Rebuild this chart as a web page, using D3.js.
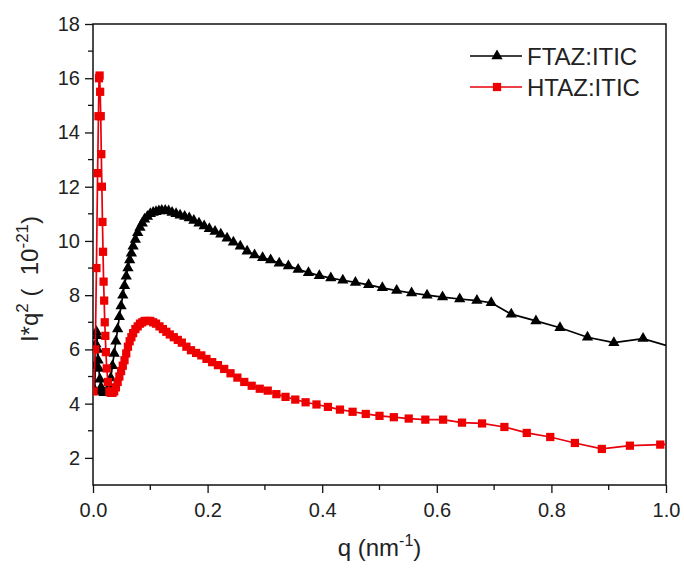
<!DOCTYPE html>
<html>
<head>
<meta charset="utf-8">
<script src="https://cdn.jsdelivr.net/npm/d3@7"></script>
<style>
  body { margin: 0; background: #fff; }
  text { font-family: "Liberation Sans", Arial, sans-serif; fill: #222; }
</style>
</head>
<body>
<script>
// q values (nm^-1) and I*q^2 (10^-21)
var ftazQ = [0.003,0.004,0.005,0.006,0.007,0.008,0.009,0.010,0.012,0.014,0.016,0.019,0.022,0.025,0.028,
  0.031,0.034,0.037,0.040,0.043,0.046,0.049,0.052,0.055,0.058,0.061,0.064,0.067,0.070,0.074,0.078,0.082,
  0.086,0.090,0.095,0.100,0.105,0.110,0.115,0.120,0.126,0.132,0.138,0.145,0.152,0.160,0.168,0.176,0.185,
  0.194,0.203,0.213,0.223,0.234,0.245,0.257,0.269,0.282,0.296,0.310,0.325,0.341,0.358,0.376,0.395,0.415,
  0.436,0.458,0.481,0.505,0.530,0.556,0.583,0.610,0.640,0.670,0.695,0.730,0.773,0.815,0.863,0.909,0.960,1.0];
var ftazI = [4.5,5.4,6.2,6.65,6.5,6.0,5.6,5.3,4.9,4.6,4.45,4.4,4.4,4.45,4.6,
  4.95,5.4,5.85,6.3,6.75,7.2,7.6,8.0,8.35,8.7,9.0,9.3,9.55,9.8,10.05,10.3,10.5,
  10.65,10.8,10.9,11.0,11.05,11.08,11.1,11.12,11.12,11.1,11.05,11.0,10.95,10.9,10.85,10.75,10.65,
  10.55,10.45,10.35,10.25,10.1,9.95,9.8,9.62,9.48,9.38,9.3,9.18,9.08,8.95,8.83,8.72,8.63,
  8.55,8.47,8.38,8.27,8.17,8.08,8.0,7.93,7.86,7.8,7.72,7.3,7.05,6.8,6.45,6.25,6.4,6.15];

var htazQ = [0.001,0.004,0.006,0.008,0.0095,0.0105,0.0115,0.0125,0.0135,0.0145,0.0155,0.0165,0.0175,0.0185,
  0.0195,0.0205,0.0215,0.0225,0.024,0.026,0.0285,0.031,0.034,0.037,0.040,0.043,0.046,0.049,0.052,0.055,
  0.058,0.061,0.064,0.067,0.070,0.074,0.078,0.082,0.086,0.090,0.095,0.100,0.105,0.110,0.116,0.122,0.128,
  0.134,0.141,0.148,0.155,0.163,0.171,0.180,0.189,0.198,0.208,0.218,0.229,0.240,0.252,0.264,0.277,0.291,
  0.305,0.320,0.336,0.353,0.371,0.390,0.410,0.431,0.453,0.476,0.500,0.525,0.551,0.580,0.611,0.644,0.679,
  0.718,0.757,0.798,0.841,0.888,0.937,0.990,1.0];
var htazI = [4.45,6.0,9.0,12.5,14.6,16.0,16.1,15.5,14.6,13.2,12.0,10.7,9.6,8.5,
  7.8,7.0,6.5,5.9,5.3,4.8,4.45,4.4,4.4,4.45,4.6,4.8,5.0,5.2,5.4,5.6,
  5.85,6.1,6.3,6.45,6.6,6.75,6.85,6.95,7.0,7.05,7.05,7.05,7.0,6.95,6.85,6.75,6.65,
  6.55,6.45,6.35,6.25,6.1,5.97,5.87,5.78,5.65,5.53,5.42,5.28,5.12,4.96,4.8,4.66,4.55,
  4.48,4.35,4.25,4.15,4.05,3.97,3.88,3.78,3.7,3.62,3.55,3.5,3.45,3.41,3.41,3.3,3.27,
  3.14,2.92,2.77,2.55,2.33,2.45,2.49,2.5];

var xTicks = [0, 0.2, 0.4, 0.6, 0.8, 1.0];
var yTicks = [2, 4, 6, 8, 10, 12, 14, 16, 18];
var seriesNames = ["FTAZ:ITIC", "HTAZ:ITIC"];

var svgWidth = 684, svgHeight = 569;
var margin = {top: 24, right: 18, bottom: 84, left: 93};
var w = svgWidth - margin.left - margin.right;
var h = svgHeight - margin.top - margin.bottom;

var svg = d3.select("body").append("svg")
  .attr("width", svgWidth)
  .attr("height", svgHeight);

var x = d3.scaleLinear().domain([0, 1]).range([0, w]);
var y = d3.scaleLinear().domain([1, 18]).range([h, 0]);

var g = svg.append("g").attr("transform", `translate(${margin.left},${margin.top})`);

// frame
g.append("rect").attr("width", w).attr("height", h)
  .attr("fill", "none").attr("stroke", "#111").attr("stroke-width", 1.5);

// minor ticks
var xMinor = d3.range(0.1, 1, 0.2);
var yMinor = d3.range(3, 18, 2);
g.selectAll(".xminor").data(xMinor).enter().append("line")
  .attr("x1", d => x(d)).attr("x2", d => x(d))
  .attr("y1", h).attr("y2", h + 5)
  .attr("stroke", "#111").attr("stroke-width", 1.3);
g.selectAll(".yminor").data(yMinor).enter().append("line")
  .attr("x1", -5).attr("x2", 0)
  .attr("y1", d => y(d)).attr("y2", d => y(d))
  .attr("stroke", "#111").attr("stroke-width", 1.3);

// major axes
var xAxis = g.append("g").attr("transform", `translate(0,${h})`)
  .call(d3.axisBottom(x).tickValues(xTicks).tickFormat(d3.format(".1f")).tickSize(8).tickPadding(10));
var yAxis = g.append("g")
  .call(d3.axisLeft(y).tickValues(yTicks).tickSize(8).tickPadding(5));
[xAxis, yAxis].forEach(function(a) {
  a.select(".domain").remove();
  a.selectAll("line").attr("stroke", "#111").attr("stroke-width", 1.3);
  a.selectAll("text").attr("font-size", "20px").attr("font-family", "Liberation Sans, Arial, sans-serif").attr("fill", "#222");
});

// clip for the data
svg.append("clipPath").attr("id", "plotclip").append("rect")
  .attr("x", 0).attr("y", 0).attr("width", w).attr("height", h);

var line = d3.line().x(d => x(d[0])).y(d => y(d[1]));
var ftaz = ftazQ.map((q, i) => [q, ftazI[i]]);
var htaz = htazQ.map((q, i) => [q, htazI[i]]);

var plot = g.append("g").attr("clip-path", "url(#plotclip)");
var tri = d3.symbol().type(d3.symbolTriangle).size(55);
var sq = d3.symbol().type(d3.symbolSquare).size(68);

plot.append("path").datum(ftaz).attr("d", line)
  .attr("fill", "none").attr("stroke", "#000").attr("stroke-width", 1.7);
plot.selectAll(".tri").data(ftaz.filter(d => d[0] < 0.99)).enter().append("path")
  .attr("d", tri)
  .attr("transform", d => `translate(${x(d[0])},${y(d[1])})`)
  .attr("fill", "#000");

plot.append("path").datum(htaz).attr("d", line)
  .attr("fill", "none").attr("stroke", "#e8000b").attr("stroke-width", 1.7);
plot.selectAll(".sq").data(htaz.filter(d => d[0] < 0.995)).enter().append("path")
  .attr("d", sq)
  .attr("transform", d => `translate(${x(d[0])},${y(d[1])})`)
  .attr("fill", "#ee0000");

// legend
var legend = svg.append("g").attr("transform", "translate(470,56)");
var lg = legend.selectAll("g").data(seriesNames).enter().append("g")
  .attr("transform", (d, i) => `translate(0,${i * 31})`);
lg.append("line").attr("x1", 0).attr("x2", 52).attr("y1", 0).attr("y2", 0)
  .attr("stroke", (d, i) => i ? "#e8000b" : "#000").attr("stroke-width", 1.7);
lg.append("path")
  .attr("d", (d, i) => i ? sq() : tri())
  .attr("transform", "translate(27,0)")
  .attr("fill", (d, i) => i ? "#ee0000" : "#000");
lg.append("text").attr("x", 57).attr("y", 8.5)
  .attr("font-size", "24px")
  .text(d => d);

// axis titles
var xt = svg.append("text")
  .attr("x", margin.left + w / 2).attr("y", 556)
  .attr("text-anchor", "middle").attr("font-size", "24px");
xt.append("tspan").text("q (nm");
xt.append("tspan").attr("dy", -10).attr("font-size", "16px").text("-1");
xt.append("tspan").attr("dy", 10).text(")");

var yt = svg.append("text")
  .attr("transform", "translate(38,279) rotate(-90)")
  .attr("text-anchor", "middle").attr("font-size", "24px")
  .attr("xml:space", "preserve");
yt.append("tspan").text("I*q");
yt.append("tspan").attr("dy", -10).attr("font-size", "17px").text("2");
yt.append("tspan").attr("dy", 10).text(" (  10");
yt.append("tspan").attr("dy", -10).attr("font-size", "17px").text("-21");
yt.append("tspan").attr("dy", 10).text(")");
</script>
</body>
</html>
